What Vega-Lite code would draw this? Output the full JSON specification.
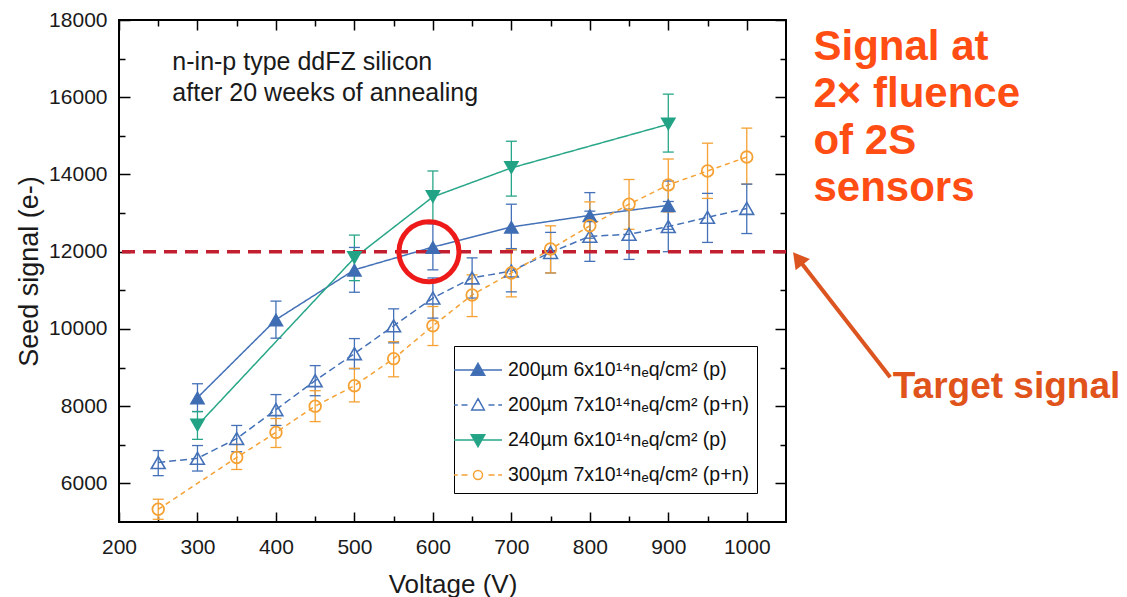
{
  "$schema": "https://vega.github.io/schema/vega-lite/v6.json",
  "autosize": "none",
  "width": 667,
  "height": 502,
  "padding": {"left": 119, "top": 20, "right": 341, "bottom": 75},
  "background": "white",
  "datasets": {
    "pts": [
      {"series": "200µm 6x10¹⁴nₑq/cm² (p)", "V": 300, "signal": 8220, "lo": 7860, "hi": 8580},
      {"series": "200µm 6x10¹⁴nₑq/cm² (p)", "V": 400, "signal": 10240, "lo": 9760, "hi": 10720},
      {"series": "200µm 6x10¹⁴nₑq/cm² (p)", "V": 500, "signal": 11530, "lo": 10950, "hi": 12110},
      {"series": "200µm 6x10¹⁴nₑq/cm² (p)", "V": 600, "signal": 12120, "lo": 11530, "hi": 12720},
      {"series": "200µm 6x10¹⁴nₑq/cm² (p)", "V": 700, "signal": 12640, "lo": 12080, "hi": 13230},
      {"series": "200µm 6x10¹⁴nₑq/cm² (p)", "V": 800, "signal": 12940, "lo": 12350, "hi": 13530},
      {"series": "200µm 6x10¹⁴nₑq/cm² (p)", "V": 900, "signal": 13200, "lo": 12580, "hi": 13830},
      {"series": "200µm 7x10¹⁴nₑq/cm² (p+n)", "V": 250, "signal": 6540, "lo": 6200, "hi": 6850},
      {"series": "200µm 7x10¹⁴nₑq/cm² (p+n)", "V": 300, "signal": 6650, "lo": 6320, "hi": 6980},
      {"series": "200µm 7x10¹⁴nₑq/cm² (p+n)", "V": 350, "signal": 7160, "lo": 6820, "hi": 7500},
      {"series": "200µm 7x10¹⁴nₑq/cm² (p+n)", "V": 400, "signal": 7910, "lo": 7500, "hi": 8300},
      {"series": "200µm 7x10¹⁴nₑq/cm² (p+n)", "V": 450, "signal": 8660, "lo": 8270, "hi": 9050},
      {"series": "200µm 7x10¹⁴nₑq/cm² (p+n)", "V": 500, "signal": 9360, "lo": 8970, "hi": 9750},
      {"series": "200µm 7x10¹⁴nₑq/cm² (p+n)", "V": 550, "signal": 10080, "lo": 9640, "hi": 10520},
      {"series": "200µm 7x10¹⁴nₑq/cm² (p+n)", "V": 600, "signal": 10800, "lo": 10280, "hi": 11320},
      {"series": "200µm 7x10¹⁴nₑq/cm² (p+n)", "V": 650, "signal": 11320, "lo": 10800, "hi": 11840},
      {"series": "200µm 7x10¹⁴nₑq/cm² (p+n)", "V": 700, "signal": 11500, "lo": 10960, "hi": 12050},
      {"series": "200µm 7x10¹⁴nₑq/cm² (p+n)", "V": 750, "signal": 11980, "lo": 11450, "hi": 12500},
      {"series": "200µm 7x10¹⁴nₑq/cm² (p+n)", "V": 800, "signal": 12400, "lo": 11750, "hi": 13050},
      {"series": "200µm 7x10¹⁴nₑq/cm² (p+n)", "V": 850, "signal": 12450, "lo": 11800, "hi": 13100},
      {"series": "200µm 7x10¹⁴nₑq/cm² (p+n)", "V": 900, "signal": 12650, "lo": 12000, "hi": 13300},
      {"series": "200µm 7x10¹⁴nₑq/cm² (p+n)", "V": 950, "signal": 12890, "lo": 12240, "hi": 13510},
      {"series": "200µm 7x10¹⁴nₑq/cm² (p+n)", "V": 1000, "signal": 13120, "lo": 12470, "hi": 13750},
      {"series": "240µm 6x10¹⁴nₑq/cm² (p)", "V": 300, "signal": 7500, "lo": 7140, "hi": 7860},
      {"series": "240µm 6x10¹⁴nₑq/cm² (p)", "V": 500, "signal": 11840, "lo": 11250, "hi": 12430},
      {"series": "240µm 6x10¹⁴nₑq/cm² (p)", "V": 600, "signal": 13420, "lo": 12780, "hi": 14090},
      {"series": "240µm 6x10¹⁴nₑq/cm² (p)", "V": 700, "signal": 14170, "lo": 13440, "hi": 14860},
      {"series": "240µm 6x10¹⁴nₑq/cm² (p)", "V": 900, "signal": 15300, "lo": 14580, "hi": 16080},
      {"series": "300µm 7x10¹⁴nₑq/cm² (p+n)", "V": 250, "signal": 5330, "lo": 5070, "hi": 5590},
      {"series": "300µm 7x10¹⁴nₑq/cm² (p+n)", "V": 350, "signal": 6670, "lo": 6360, "hi": 7010},
      {"series": "300µm 7x10¹⁴nₑq/cm² (p+n)", "V": 400, "signal": 7320, "lo": 6930, "hi": 7680},
      {"series": "300µm 7x10¹⁴nₑq/cm² (p+n)", "V": 450, "signal": 8000, "lo": 7600, "hi": 8400},
      {"series": "300µm 7x10¹⁴nₑq/cm² (p+n)", "V": 500, "signal": 8530, "lo": 8110, "hi": 8980},
      {"series": "300µm 7x10¹⁴nₑq/cm² (p+n)", "V": 550, "signal": 9230, "lo": 8760, "hi": 9670},
      {"series": "300µm 7x10¹⁴nₑq/cm² (p+n)", "V": 600, "signal": 10080, "lo": 9570, "hi": 10580},
      {"series": "300µm 7x10¹⁴nₑq/cm² (p+n)", "V": 650, "signal": 10880, "lo": 10320, "hi": 11400},
      {"series": "300µm 7x10¹⁴nₑq/cm² (p+n)", "V": 700, "signal": 11450, "lo": 10830, "hi": 12050},
      {"series": "300µm 7x10¹⁴nₑq/cm² (p+n)", "V": 750, "signal": 12070, "lo": 11450, "hi": 12670},
      {"series": "300µm 7x10¹⁴nₑq/cm² (p+n)", "V": 800, "signal": 12670, "lo": 12030, "hi": 13290},
      {"series": "300µm 7x10¹⁴nₑq/cm² (p+n)", "V": 850, "signal": 13230, "lo": 12580, "hi": 13870},
      {"series": "300µm 7x10¹⁴nₑq/cm² (p+n)", "V": 900, "signal": 13730, "lo": 13030, "hi": 14400},
      {"series": "300µm 7x10¹⁴nₑq/cm² (p+n)", "V": 950, "signal": 14090, "lo": 13380, "hi": 14810},
      {"series": "300µm 7x10¹⁴nₑq/cm² (p+n)", "V": 1000, "signal": 14450, "lo": 13750, "hi": 15200}
    ]
  },
  "data": {"name": "pts"},
  "resolve": {"axis": {"x": "independent", "y": "independent"}},
  "layer": [
    {
      "mark": {"type": "line", "strokeWidth": 1.5},
      "encoding": {
        "x": {"field": "V", "type": "quantitative",
          "scale": {"domain": [200, 1050], "nice": false, "zero": false},
          "axis": {"orient": "bottom", "values": [200, 300, 400, 500, 600, 700, 800, 900, 1000], "format": "d", "tickSize": -10, "labelPadding": 24, "title": "Voltage (V)", "titleFontSize": 26, "titlePadding": 14}},
        "y": {"field": "signal", "type": "quantitative",
          "scale": {"domain": [5000, 18000], "nice": false, "zero": false},
          "axis": {"orient": "left", "values": [6000, 8000, 10000, 12000, 14000, 16000, 18000], "format": "d", "tickSize": -11, "labelPadding": 23, "title": "Seed signal (e-)", "titleFontSize": 27, "titlePadding": 5}},
        "color": {"field": "series", "type": "nominal",
          "scale": {"domain": ["200µm 7x10¹⁴nₑq/cm² (p+n)", "200µm 6x10¹⁴nₑq/cm² (p)", "240µm 6x10¹⁴nₑq/cm² (p)", "300µm 7x10¹⁴nₑq/cm² (p+n)"], "range": ["#4471B7", "#4471B7", "#28A688", "#F5A133"]},
          "legend": null},
        "strokeDash": {"field": "series", "type": "nominal",
          "scale": {"domain": ["200µm 6x10¹⁴nₑq/cm² (p)", "240µm 6x10¹⁴nₑq/cm² (p)", "200µm 7x10¹⁴nₑq/cm² (p+n)", "300µm 7x10¹⁴nₑq/cm² (p+n)"], "range": [[1, 0], [1, 0], [7, 4], [5, 4]]},
          "legend": null}
      }
    },
    {
      "mark": {"type": "rule", "strokeWidth": 1.3},
      "encoding": {
        "x": {"field": "V", "type": "quantitative",
          "axis": {"orient": "bottom", "values": [250, 350, 450, 550, 650, 750, 850, 950], "tickSize": -6, "labels": false, "title": null}},
        "y": {"field": "lo", "type": "quantitative",
          "axis": {"orient": "left", "values": [7000, 9000, 11000, 13000, 15000, 17000], "tickSize": -6, "labels": false, "title": null}},
        "y2": {"field": "hi"},
        "color": {"field": "series", "type": "nominal", "legend": null}
      }
    },
    {
      "mark": {"type": "tick", "orient": "horizontal", "size": 11, "thickness": 1.3, "opacity": 1},
      "encoding": {
        "x": {"field": "V", "type": "quantitative",
          "axis": {"orient": "top", "values": [200, 300, 400, 500, 600, 700, 800, 900, 1000], "tickSize": -10, "labels": false, "title": null}},
        "y": {"field": "lo", "type": "quantitative",
          "axis": {"orient": "right", "values": [6000, 8000, 10000, 12000, 14000, 16000, 18000], "tickSize": -11, "labels": false, "title": null}},
        "color": {"field": "series", "type": "nominal", "legend": null}
      }
    },
    {
      "mark": {"type": "tick", "orient": "horizontal", "size": 11, "thickness": 1.3, "opacity": 1},
      "encoding": {
        "x": {"field": "V", "type": "quantitative",
          "axis": {"orient": "top", "values": [250, 350, 450, 550, 650, 750, 850, 950], "tickSize": -6, "labels": false, "title": null}},
        "y": {"field": "hi", "type": "quantitative",
          "axis": {"orient": "right", "values": [7000, 9000, 11000, 13000, 15000, 17000], "tickSize": -6, "labels": false, "title": null}},
        "color": {"field": "series", "type": "nominal", "legend": null}
      }
    },
    {
      "data": {"values": [{}]},
      "mark": {"type": "rule", "color": "#C21F30", "strokeWidth": 3.5, "strokeDash": [13, 8]},
      "encoding": {"y": {"datum": 12000, "axis": null}}
    },
    {
      "transform": [{"filter": {"field": "series", "equal": "200µm 6x10¹⁴nₑq/cm² (p)"}}],
      "mark": {"type": "point", "shape": "triangle-up", "filled": true, "color": "#3F6DB3", "size": 250, "opacity": 1},
      "encoding": {"x": {"field": "V", "type": "quantitative", "axis": null}, "y": {"field": "signal", "type": "quantitative", "axis": null}}
    },
    {
      "transform": [{"filter": {"field": "series", "equal": "200µm 7x10¹⁴nₑq/cm² (p+n)"}}],
      "mark": {"type": "point", "shape": "triangle-up", "filled": false, "color": "#4471B7", "size": 190, "strokeWidth": 1.6, "opacity": 1},
      "encoding": {"x": {"field": "V", "type": "quantitative", "axis": null}, "y": {"field": "signal", "type": "quantitative", "axis": null}}
    },
    {
      "transform": [{"filter": {"field": "series", "equal": "240µm 6x10¹⁴nₑq/cm² (p)"}}],
      "mark": {"type": "point", "shape": "triangle-down", "filled": true, "color": "#22A385", "size": 250, "opacity": 1},
      "encoding": {"x": {"field": "V", "type": "quantitative", "axis": null}, "y": {"field": "signal", "type": "quantitative", "axis": null}}
    },
    {
      "transform": [{"filter": {"field": "series", "equal": "300µm 7x10¹⁴nₑq/cm² (p+n)"}}],
      "mark": {"type": "point", "shape": "circle", "filled": false, "color": "#F5A133", "size": 135, "strokeWidth": 1.8, "opacity": 1},
      "encoding": {"x": {"field": "V", "type": "quantitative", "axis": null}, "y": {"field": "signal", "type": "quantitative", "axis": null}}
    },
    {
      "data": {"values": [{}]},
      "mark": {"type": "point", "shape": "circle", "filled": false, "color": "#EE1A1A", "size": 3600, "strokeWidth": 5, "opacity": 1},
      "encoding": {"x": {"datum": 595, "axis": null}, "y": {"datum": 12000, "axis": null}}
    },
    {
      "data": {"values": [{}]},
      "mark": {"type": "text", "align": "left", "baseline": "alphabetic", "fontSize": 25, "lineHeight": 31, "font": "Liberation Sans", "color": "#1a1a1a", "lineBreak": "\n", "text": "n-in-p type ddFZ silicon\nafter 20 weeks of annealing"},
      "encoding": {"x": {"datum": 268, "axis": null}, "y": {"datum": 16700, "axis": null}}
    },
    {
      "data": {"values": [{}]},
      "mark": {"type": "text", "align": "left", "baseline": "alphabetic", "fontSize": 42, "fontWeight": "bold", "lineHeight": 47, "font": "Liberation Sans", "color": "#FF4D14", "lineBreak": "\n", "text": "Signal at\n2× fluence\nof 2S\nsensors"},
      "encoding": {"x": {"datum": 1085, "axis": null}, "y": {"datum": 16960, "axis": null}}
    },
    {
      "data": {"values": [{}]},
      "mark": {"type": "text", "align": "left", "baseline": "alphabetic", "fontSize": 37, "fontWeight": "bold", "font": "Liberation Sans", "color": "#E0541C", "text": "Target signal"},
      "encoding": {"x": {"datum": 1186, "axis": null}, "y": {"datum": 8200, "axis": null}}
    },
    {
      "data": {"values": [{}]},
      "mark": {"type": "rule", "color": "#DC5420", "strokeWidth": 4},
      "encoding": {"x": {"datum": 1182.8, "axis": null}, "y": {"datum": 8746, "axis": null}, "x2": {"datum": 1065.2}, "y2": {"datum": 11824}}
    },
    {
      "data": {"values": [{}]},
      "mark": {"type": "point", "shape": "triangle-up", "filled": true, "color": "#DC5420", "size": 330, "angle": 322, "opacity": 1},
      "encoding": {"x": {"datum": 1065.2, "axis": null}, "y": {"datum": 11824, "axis": null}}
    },
    {
      "mark": {"type": "point", "strokeWidth": 1.5, "opacity": 0},
      "encoding": {
        "x": {"field": "V", "type": "quantitative", "axis": null},
        "y": {"field": "signal", "type": "quantitative", "axis": null},
        "shape": {"field": "series", "type": "nominal",
          "scale": {"domain": ["200µm 6x10¹⁴nₑq/cm² (p)", "200µm 7x10¹⁴nₑq/cm² (p+n)", "240µm 6x10¹⁴nₑq/cm² (p)", "300µm 7x10¹⁴nₑq/cm² (p+n)"],
            "range": [
              "M-1.6,0L1.6,0M0,-0.45L0.45,0.35L-0.45,0.35Z",
              "M-1.6,0L-1.35,0M-1.1,0L-0.7,0M0.7,0L1.1,0M1.35,0L1.6,0M0,-0.42L0.42,0.33L-0.42,0.33Z",
              "M-1.6,0L1.6,0M0,0.45L0.45,-0.35L-0.45,-0.35Z",
              "M-1.6,0L-1.35,0M-1.1,0L-0.7,0M0.7,0L1.1,0M1.35,0L1.6,0M0.3,0A0.3,0.3,0,1,1,-0.3,0A0.3,0.3,0,1,1,0.3,0Z"
            ]},
          "legend": {"title": null, "orient": "none", "legendX": 335, "legendY": 326, "padding": 8, "rowPadding": 9, "symbolSize": 900, "symbolStrokeWidth": 1.5, "symbolOpacity": 1, "symbolFillColor": "white", "labelFontSize": 19.5, "labelOffset": 14, "labelFont": "Liberation Sans", "labelColor": "#111", "labelLimit": 400, "strokeColor": "black", "fillColor": "white"}},
        "fill": {"field": "series", "type": "nominal",
          "scale": {"domain": ["200µm 6x10¹⁴nₑq/cm² (p)", "200µm 7x10¹⁴nₑq/cm² (p+n)", "240µm 6x10¹⁴nₑq/cm² (p)", "300µm 7x10¹⁴nₑq/cm² (p+n)"], "range": ["#3F6DB3", "white", "#22A385", "white"]},
          "legend": {"title": null, "orient": "none", "legendX": 335, "legendY": 326, "padding": 8, "rowPadding": 9, "symbolSize": 900, "symbolStrokeWidth": 1.5, "symbolOpacity": 1, "symbolFillColor": "white", "labelFontSize": 19.5, "labelOffset": 14, "labelFont": "Liberation Sans", "labelColor": "#111", "labelLimit": 400, "strokeColor": "black", "fillColor": "white"}},
        "stroke": {"field": "series", "type": "nominal",
          "scale": {"domain": ["200µm 6x10¹⁴nₑq/cm² (p)", "200µm 7x10¹⁴nₑq/cm² (p+n)", "240µm 6x10¹⁴nₑq/cm² (p)", "300µm 7x10¹⁴nₑq/cm² (p+n)"], "range": ["#4471B7", "#4471B7", "#28A688", "#F5A133"]},
          "legend": {"title": null, "orient": "none", "legendX": 335, "legendY": 326, "padding": 8, "rowPadding": 9, "symbolSize": 900, "symbolStrokeWidth": 1.5, "symbolOpacity": 1, "symbolFillColor": "white", "labelFontSize": 19.5, "labelOffset": 14, "labelFont": "Liberation Sans", "labelColor": "#111", "labelLimit": 400, "strokeColor": "black", "fillColor": "white"}}
      }
    }
  ],
  "config": {
    "font": "Liberation Sans",
    "view": {"stroke": "black", "strokeWidth": 2},
    "axis": {"grid": false, "domain": false, "labelFlush": false, "tickColor": "black", "tickWidth": 1.5, "labelFont": "Liberation Sans", "titleFont": "Liberation Sans", "labelColor": "#1a1a1a", "titleColor": "#1a1a1a", "labelFontSize": 21, "titleFontSize": 25, "titleFontWeight": "normal"}
  }
}
